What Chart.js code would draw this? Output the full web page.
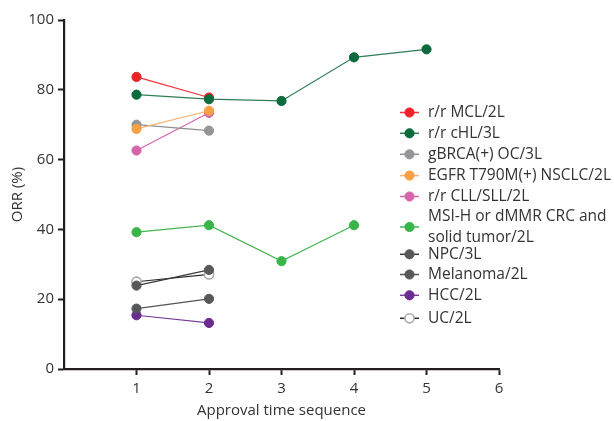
<!DOCTYPE html>
<html>
<head>
<meta charset="utf-8">
<script src="https://cdn.jsdelivr.net/npm/chart.js@4.4.1/dist/chart.umd.min.js"></script>
<style>
  html, body { margin: 0; padding: 0; background: #ffffff; }
  #wrap { width: 614px; height: 421px; position: relative; }
</style>
</head>
<body>
<div id="wrap"><canvas id="c" width="614" height="421"></canvas></div>
<script>
// ---- data ----
const xTicks = [1, 2, 3, 4, 5, 6];
const yTicks = [0, 20, 40, 60, 80, 100];
const seriesLabels = [
  'r/r MCL/2L',
  'r/r cHL/3L',
  'gBRCA(+) OC/3L',
  'EGFR T790M(+) NSCLC/2L',
  'r/r CLL/SLL/2L',
  'MSI-H or dMMR CRC and\nsolid tumor/2L',
  'NPC/3L',
  'Melanoma/2L',
  'HCC/2L',
  'UC/2L'
];
const mclSeq = [1, 2];          const mclOrr = [83.7, 77.8];
const chlSeq = [1, 2, 3, 4, 5]; const chlOrr = [78.6, 77.3, 76.8, 89.3, 91.6];
const gbrcaSeq = [1, 2];        const gbrcaOrr = [70.0, 68.3];
const egfrSeq = [1, 2];         const egfrOrr = [68.8, 74.0];
const cllSeq = [1, 2];          const cllOrr = [62.6, 73.4];
const msiSeq = [1, 2, 3, 4];    const msiOrr = [39.2, 41.2, 30.9, 41.2];
const npcSeq = [1, 2];          const npcOrr = [23.9, 28.4];
const melSeq = [1, 2];          const melOrr = [17.3, 20.1];
const hccSeq = [1, 2];          const hccOrr = [15.4, 13.2];
const ucSeq = [1, 2];           const ucOrr = [25.0, 27.1];

// ---- styles ----
const FONT = '"Open Sans", "Liberation Sans", sans-serif';
const TXT = '#333333';
const AXIS = '#231f20';

function pts(xs, ys) { return xs.map((x, i) => ({ x: x, y: ys[i] })); }

function ds(label, xs, ys, line, fill, border, order) {
  return {
    label: label,
    data: pts(xs, ys),
    borderColor: line,
    backgroundColor: fill,
    pointBackgroundColor: fill,
    pointBorderColor: border,
    pointBorderWidth: 1,
    pointRadius: 4.6,
    pointHoverRadius: 4.6,
    borderWidth: 1.2,
    tension: 0,
    order: order
  };
}

const datasets = [
  ds(seriesLabels[0], mclSeq, mclOrr, '#ee3237', '#ee2229', '#ee2229', 5),
  ds(seriesLabels[1], chlSeq, chlOrr, '#2f7d55', '#0b6b3d', '#0b6b3d', 1),
  ds(seriesLabels[2], gbrcaSeq, gbrcaOrr, '#8e8e90', '#939598', '#939598', 3),
  ds(seriesLabels[3], egfrSeq, egfrOrr, '#f8b46c', '#f7a044', '#f7a044', 2),
  ds(seriesLabels[4], cllSeq, cllOrr, '#d866aa', '#d765a9', '#d765a9', 4),
  ds(seriesLabels[5], msiSeq, msiOrr, '#45b74f', '#3ab54a', '#3ab54a', 3),
  ds(seriesLabels[6], npcSeq, npcOrr, '#3a3a3c', '#57585a', '#57585a', 2),
  ds(seriesLabels[7], melSeq, melOrr, '#555555', '#57585a', '#57585a', 3),
  ds(seriesLabels[8], hccSeq, hccOrr, '#7a3d9a', '#6a2c8f', '#6a2c8f', 3),
  ds(seriesLabels[9], ucSeq, ucOrr, '#2a2a2a', '#ffffff', '#a9a9ab', 6)
];
datasets[9].pointBorderWidth = 1.6;

// legend layout (centre y of each entry)
const legendLayout = {
  lineX0: 400, lineX1: 419, markX: 409.5, textX: 428,
  ys: [112.5, 133.3, 154.3, 175.6, 196.5, 227, 254.3, 274.5, 295.3, 318.3],
  lineH: 20.5
};

const legendPlugin = {
  id: 'sideLegend',
  afterDraw(chart) {
    const ctx = chart.ctx;
    ctx.save();
    chart.data.datasets.forEach((d, i) => {
      const y = legendLayout.ys[i];
      ctx.strokeStyle = d.borderColor;
      ctx.lineWidth = 1.5;
      ctx.beginPath();
      ctx.moveTo(legendLayout.lineX0, y);
      ctx.lineTo(legendLayout.lineX1, y);
      ctx.stroke();
      ctx.beginPath();
      ctx.arc(legendLayout.markX, y, 4.6, 0, Math.PI * 2);
      ctx.fillStyle = d.pointBackgroundColor;
      ctx.fill();
      ctx.lineWidth = d.pointBorderWidth;
      ctx.strokeStyle = d.pointBorderColor;
      ctx.stroke();
      const lines = d.label.split('\n');
      ctx.fillStyle = TXT;
      ctx.font = '15.5px ' + FONT;
      ctx.textBaseline = 'middle';
      ctx.textAlign = 'left';
      const y0 = y - (lines.length - 1) * legendLayout.lineH / 2;
      lines.forEach((t, k) => ctx.fillText(t, legendLayout.textX, y0 + k * legendLayout.lineH));
    });
    ctx.restore();
  }
};

new Chart(document.getElementById('c'), {
  type: 'line',
  data: { datasets: datasets },
  options: {
    responsive: false,
    animation: false,
    devicePixelRatio: 1,
    layout: { padding: { left: 0, right: 115, top: 20, bottom: 0 } },
    plugins: { legend: { display: false }, tooltip: { enabled: false } },
    scales: {
      x: {
        type: 'linear',
        min: 0, max: 6,
        afterBuildTicks(scale) { scale.ticks = xTicks.map(v => ({ value: v })); },
        afterFit(scale) { scale.height = 52; },
        grid: { display: true, drawOnChartArea: false, drawTicks: true, tickLength: 6, tickWidth: 2, tickColor: AXIS },
        border: { display: true, color: AXIS, width: 2.2 },
        ticks: { color: TXT, font: { family: FONT, size: 15 }, padding: 5 },
        title: { display: true, text: 'Approval time sequence', color: TXT, font: { family: FONT, size: 15 }, padding: { top: 0, bottom: 1 } }
      },
      y: {
        min: 0, max: 100,
        afterBuildTicks(scale) { scale.ticks = yTicks.map(v => ({ value: v })); },
        afterFit(scale) { scale.width = 64; },
        grid: { display: true, drawOnChartArea: false, drawTicks: true, tickLength: 6, tickWidth: 2, tickColor: AXIS },
        border: { display: true, color: AXIS, width: 2.2 },
        ticks: { color: TXT, font: { family: FONT, size: 15 }, padding: 4 },
        title: { display: true, text: 'ORR (%)', color: TXT, font: { family: FONT, size: 15 }, padding: { top: 9, bottom: 4 } }
      }
    }
  },
  plugins: [legendPlugin]
});
</script>
</body>
</html>
